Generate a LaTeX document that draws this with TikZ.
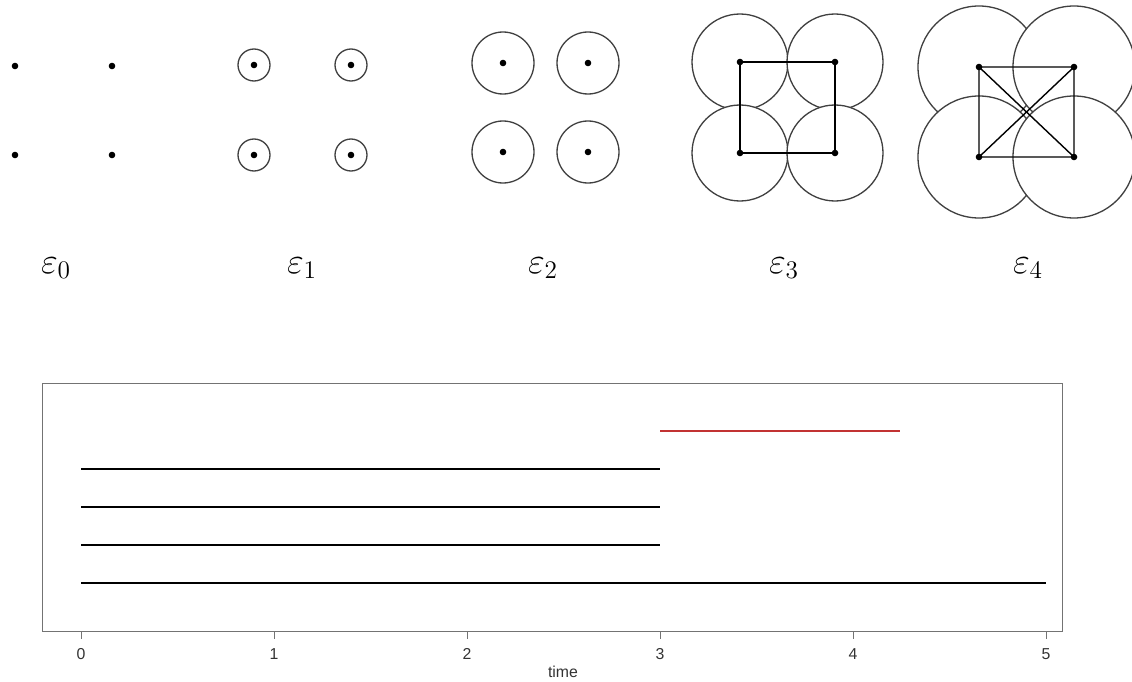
\documentclass[tikz,border=0pt]{standalone}
\usepackage{fontspec}
\newfontfamily\axisfont{Liberation Sans}
\usetikzlibrary{positioning}

\begin{document}
\begin{tikzpicture}[
  x=0.02cm, y=-0.02cm,
  ring/.style={draw=black!75, fill=white, line width=0.75pt},
  link/.style={draw=black, line width=0.8pt},
  epslab/.style={font=\fontsize{20}{24}\selectfont, inner sep=0pt},
  frame/.style={draw=black!55, line width=0.55pt},
  track/.style={line width=0.9pt, black},
  ticklab/.style={font=\axisfont\fontsize{9}{10}\selectfont, text=black!80, inner sep=0pt}
]
  \useasboundingbox (0,0) rectangle (1132,682);
  % the four points of every panel
  \foreach \k/\xl/\xr/\yt/\yb in {0/15/112/66/155, 1/254/351/65/155, 2/503/588/63/152,
      3/740/835/62/153, 4/979/1074/67/157} {
    \coordinate (p\k tl) at (\xl,\yt);
    \coordinate (p\k tr) at (\xr,\yt);
    \coordinate (p\k bl) at (\xl,\yb);
    \coordinate (p\k br) at (\xr,\yb);
  }
  % balls of growing radius
  \foreach \k/\r in {1/16, 2/31, 3/48, 4/61}
    \foreach \c in {tl,tr,bl,br}
      \draw[ring] (p\k\c) circle[radius=\r];
  \draw[link] (p3tl) -- (p3tr) -- (p3br) -- (p3bl) -- cycle;
  \draw[link] (p4tl) -- (p4tr) -- (p4br) -- (p4bl) -- cycle
    (p4tl) -- (p4br) (p4tr) -- (p4bl);
  \foreach \k in {0,...,4}
    \foreach \c in {tl,tr,bl,br}
      \fill (p\k\c) circle[radius=3.3];
  \foreach \k/\x in {0/56, 1/302, 2/543, 3/784, 4/1028}
    \node[epslab] (eps\k) at (\x,268) {$\varepsilon_\k$};

  % barcode
  \draw[frame] (42,383) rectangle (1062,631);
  \foreach \t in {0,...,5} {
    \draw[frame] (81+193*\t,631) -- (81+193*\t,639);
    \node[ticklab] (tick\t) at (81+193*\t,654) {\t};
  }
  \node[ticklab] (xlab) at (563,672) {time};
  \foreach \y in {469,507,545}
    \draw[track] (81,\y) -- (660,\y);
  \draw[track] (81,583) -- (1046,583);
  \draw[track, draw=red!70!black!80] (660,431) -- (900,431);
\end{tikzpicture}
\end{document}
